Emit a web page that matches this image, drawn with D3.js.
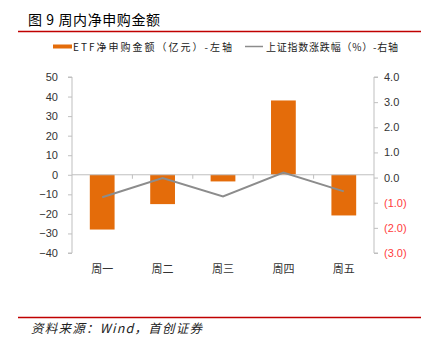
<!DOCTYPE html>
<html><head><meta charset="utf-8">
<script src="https://cdn.jsdelivr.net/npm/d3@7"></script>
<style>body{margin:0;background:#fff}svg{display:block}</style>
</head><body><svg id="c" width="434" height="345"></svg>
<script>
const categories = ["周一","周二","周三","周四","周五"];
const etfFlow = [-28, -15, -3.4, 38, -20.8];
const indexChange = [-0.78, -0.02, -0.75, 0.2, -0.55];
const leftTicks = [50,40,30,20,10,0,-10,-20,-30,-40];
const rightTicks = [4,3,2,1,0,-1,-2,-3];

const svg = d3.select("#c");
const cjk = "'Noto Sans CJK SC', sans-serif";
const lat = "'Liberation Sans', Arial, sans-serif";
const x0 = 72, x1 = 374, yTop = 77, yBot = 253;

const x = d3.scaleBand().domain(categories).range([x0, x1]).paddingInner(0.59).paddingOuter(0.295);
const xb = d3.scaleBand().domain(categories).range([x0, x1]);
const yL = d3.scaleLinear().domain([-40, 50]).range([yBot, yTop]);
const yR = d3.scaleLinear().domain([-3, 4]).range([yBot, yTop]);

// title
svg.append("text").attr("x", 28).attr("y", 25).attr("font-family", cjk).attr("font-size", 14)
  .attr("fill", "#000").attr("textLength", 132).attr("lengthAdjust", "spacing").text("图 9 周内净申购金额");
svg.append("line").attr("x1", 18).attr("x2", 421).attr("y1", 31.5).attr("y2", 31.5)
  .attr("stroke", "#c00000").attr("stroke-width", 1.5);

// legend
svg.append("rect").attr("x", 53).attr("y", 44.5).attr("width", 19).attr("height", 4).attr("fill", "#e46c0a");
svg.append("text").attr("x", 73).attr("y", 50.5).attr("font-family", cjk).attr("font-size", 10).attr("fill", "#222")
  .attr("textLength", 159).attr("lengthAdjust", "spacing").text("ETF净申购金额（亿元）-左轴");
svg.append("line").attr("x1", 245).attr("x2", 263).attr("y1", 46.5).attr("y2", 46.5).attr("stroke", "#8c8c8c").attr("stroke-width", 1.5);
svg.append("text").attr("x", 266).attr("y", 50.5).attr("font-family", cjk).attr("font-size", 10).attr("fill", "#222")
  .attr("textLength", 132).attr("lengthAdjust", "spacing").text("上证指数涨跌幅（%）-右轴");

// left axis
const la = svg.append("g").attr("transform", `translate(${x0},0)`)
  .call(d3.axisLeft(yL).tickValues(leftTicks).tickSize(4).tickPadding(10).tickFormat(d => d < 0 ? "−" + Math.abs(d) : d));
la.select(".domain").attr("stroke", "#bfbfbf").attr("d", `M-4,${yL(50)}H0V${yL(-40)}H-4`);
la.selectAll(".tick line").attr("stroke", "#bfbfbf");
la.selectAll("text").attr("font-family", lat).attr("font-size", 11).attr("fill", "#333");

// right axis
const ra = svg.append("g").attr("transform", `translate(${x1},0)`)
  .call(d3.axisRight(yR).tickValues(rightTicks).tickSize(4).tickPadding(6)
    .tickFormat(d => d < 0 ? "(" + Math.abs(d).toFixed(1) + ")" : d.toFixed(1)));
ra.select(".domain").attr("stroke", "#bfbfbf").attr("d", `M4,${yR(4)}H0V${yR(-3)}H4`);
ra.selectAll(".tick line").attr("stroke", "#bfbfbf");
ra.selectAll("text").attr("font-family", lat).attr("font-size", 11)
  .attr("fill", d => d < 0 ? "#ff3b3b" : "#333");

// bars
svg.append("g").selectAll("rect").data(etfFlow).join("rect")
  .attr("x", (d, i) => x(categories[i]))
  .attr("width", x.bandwidth())
  .attr("y", d => yL(Math.max(0, d)))
  .attr("height", d => Math.abs(yL(d) - yL(0)))
  .attr("fill", "#e46c0a");

// zero axis line
svg.append("line").attr("x1", x0).attr("x2", x1).attr("y1", yL(0)).attr("y2", yL(0))
  .attr("stroke", "#bfbfbf").attr("stroke-width", 1);
svg.append("g").selectAll("line").data(categories.slice(1)).join("line")
  .attr("x1", d => xb(d)).attr("x2", d => xb(d)).attr("y1", yL(0)).attr("y2", yL(0) + 4)
  .attr("stroke", "#bfbfbf");

// index line
const line = d3.line().x((d, i) => xb(categories[i]) + xb.bandwidth() / 2).y(d => yR(d));
svg.append("path").datum(indexChange).attr("d", line).attr("fill", "none")
  .attr("stroke", "#8c8c8c").attr("stroke-width", 2);

// category labels
svg.append("g").selectAll("text").data(categories).join("text")
  .attr("x", d => xb(d) + xb.bandwidth() / 2).attr("y", 273).attr("text-anchor", "middle")
  .attr("font-family", cjk).attr("font-size", 11).attr("fill", "#333").text(d => d);

// footer
svg.append("line").attr("x1", 18).attr("x2", 421).attr("y1", 317.5).attr("y2", 317.5)
  .attr("stroke", "#c00000").attr("stroke-width", 1.5);
svg.append("text").attr("x", 31).attr("y", 333).attr("font-family", cjk).attr("font-size", 12.5)
  .attr("font-style", "italic").attr("fill", "#222").attr("textLength", 171).attr("lengthAdjust", "spacing")
  .text("资料来源：Wind，首创证券");
</script></body></html>
